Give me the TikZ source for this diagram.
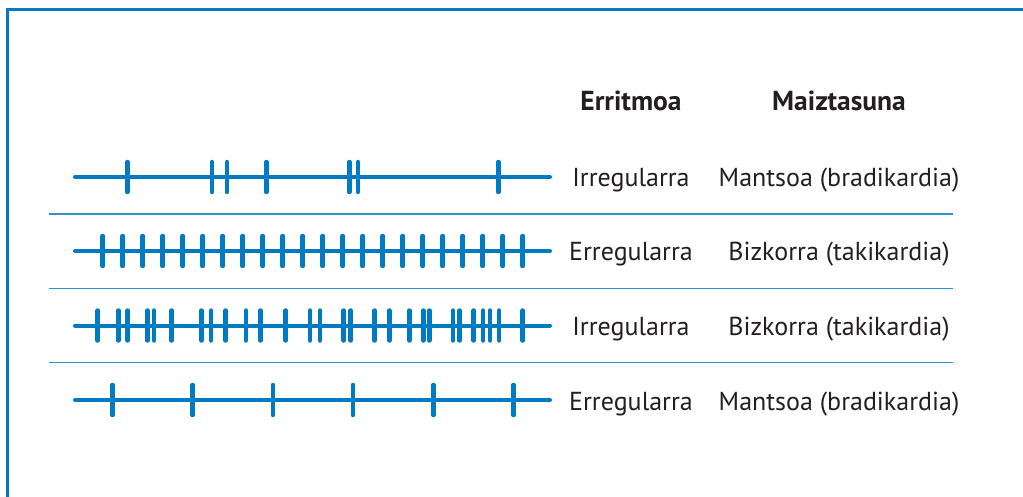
\documentclass[tikz,border=0pt]{standalone}
\usepackage{fontspec}
\setmainfont{PT Sans}
\definecolor{ecgblue}{RGB}{0,122,194}
\definecolor{seplight}{RGB}{45,148,212}
\definecolor{txtgray}{RGB}{35,31,32}

\begin{document}
\begin{tikzpicture}[x=1pt,y=-1pt,
    strip/.style={line width=4pt, ecgblue, line cap=round},
    beat/.style={line width=4.5pt, ecgblue, line cap=round},
    sep/.style={line width=1.1pt, seplight},
    lbl/.style={font=\fontsize{26}{30}\selectfont, text=txtgray, inner sep=0pt, anchor=base},
    head/.style={lbl, font=\fontsize{27.5}{31}\selectfont\bfseries}]
    \useasboundingbox (0,0) rectangle (1023,497);

    % Frame (open to the right and the bottom)
    \draw[line width=3pt, ecgblue] (1040,9.5) -- (7.5,9.5) -- (7.5,510);

    % Columns
    \def\xr{631} \def\xf{839}
    \def\ya{177} \def\yb{251} \def\yc{325.5} \def\yd{400}
    \node[head] (hrhythm) at (\xr,111) {Erritmoa};
    \node[head] (hrate) at (\xf,111) {Maiztasuna};

    % Separators
    \foreach \s in {214,288.5,362.7}
        \draw[sep] (48.7,\s) -- (953,\s);

    % Row 1: irregular, slow
    \draw[strip] (75,\ya) -- (550,\ya);
    \foreach \x in {127.3,212,227,266.3,349.3,358,498.3}
        \draw[beat] (\x,\ya-15) -- (\x,\ya+15);
    \node[lbl] (r1) at (\xr,\ya+10) {Irregularra};
    \node[lbl] (f1) at (\xf,\ya+10) {Mantsoa (bradikardia)};

    % Row 2: regular, fast
    \draw[strip] (75,\yb) -- (550,\yb);
    \foreach \i in {0,...,21}
        \draw[beat] (102.7+20*\i,\yb-15) -- (102.7+20*\i,\yb+15);
    \node[lbl] (r2) at (\xr,\yb+10) {Erregularra};
    \node[lbl] (f2) at (\xf,\yb+10) {Bizkorra (takikardia)};

    % Row 3: irregular, fast
    \draw[strip] (75,\yc) -- (550,\yc);
    \foreach \x in {97.7,118.3,127.7,147.3,154,171.7,201.3,211,225.7,246,260.3,285.7,
                    310,320,343.7,350.7,374.7,389.3,409.3,423.3,429.3,453,459.7,473.7,483,490,499,522.7}
        \draw[beat] (\x,\yc-15) -- (\x,\yc+15);
    \node[lbl] (r3) at (\xr,\yc+10) {Irregularra};
    \node[lbl] (f3) at (\xf,\yc+10) {Bizkorra (takikardia)};

    % Row 4: regular, slow
    \draw[strip] (75,\yd) -- (550,\yd);
    \foreach \i in {0,...,5}
        \draw[beat] (112.5+80.2*\i,\yd-15) -- (112.5+80.2*\i,\yd+15);
    \node[lbl] (r4) at (\xr,\yd+10) {Erregularra};
    \node[lbl] (f4) at (\xf,\yd+10) {Mantsoa (bradikardia)};
\end{tikzpicture}
\end{document}
